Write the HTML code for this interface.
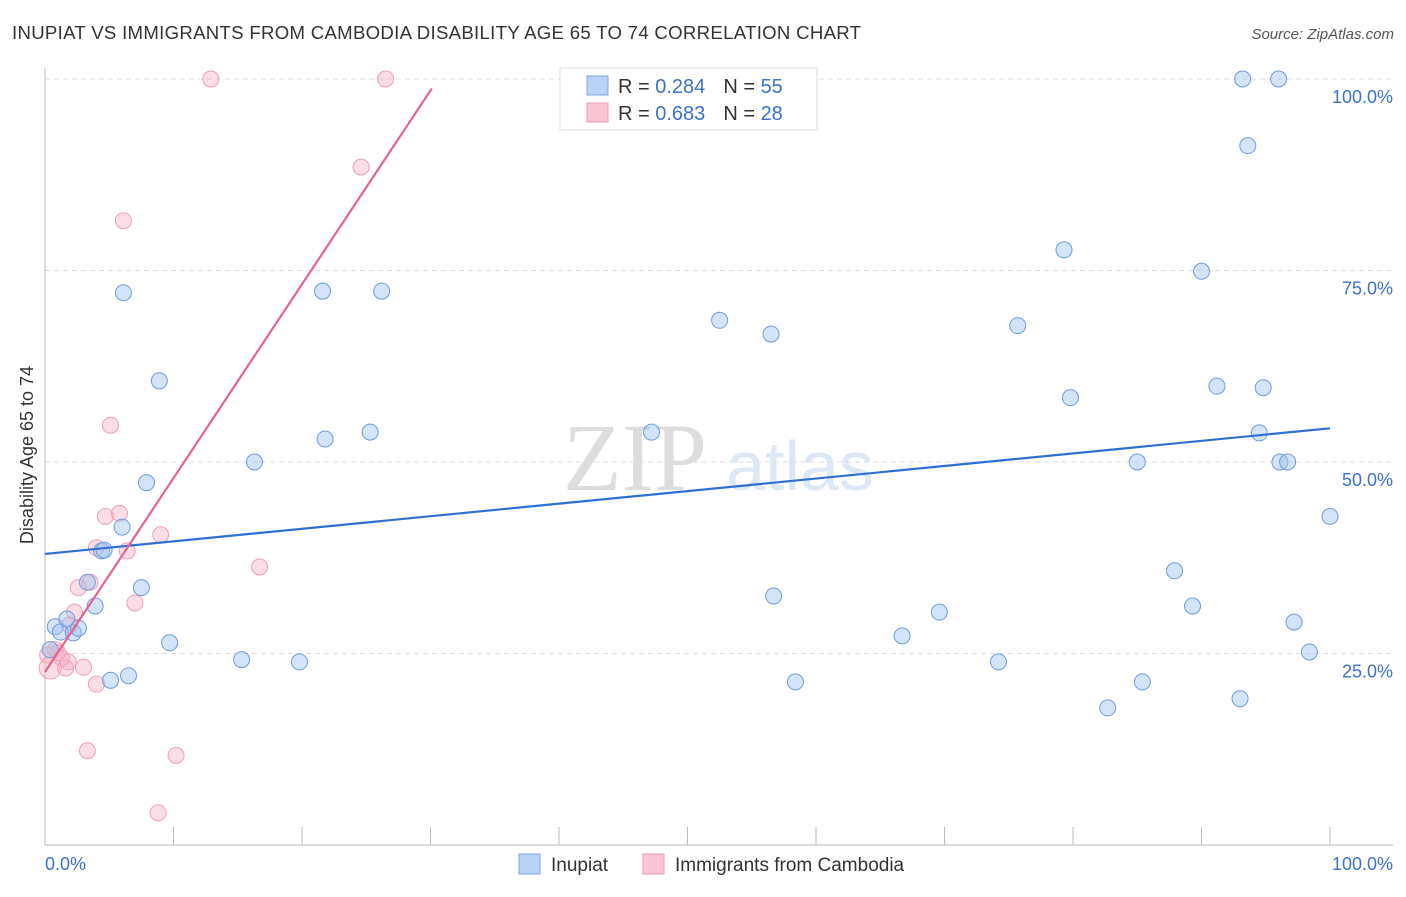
<!DOCTYPE html>
<html><head><meta charset="utf-8"><style>
body{margin:0;background:#fff;font-family:"Liberation Sans",sans-serif;}
</style></head><body>
<svg id="c" width="1406" height="892" xmlns="http://www.w3.org/2000/svg" style="font-family:'Liberation Sans',sans-serif">
<text x="12" y="39" font-size="18.6" fill="#333" letter-spacing="0.3">INUPIAT VS IMMIGRANTS FROM CAMBODIA DISABILITY AGE 65 TO 74 CORRELATION CHART</text>
<text x="1394" y="39" font-size="15" fill="#555" font-style="italic" text-anchor="end">Source: ZipAtlas.com</text>
<g><text x="635" y="490" font-size="96" fill="#ddd" font-family="Liberation Serif" text-anchor="middle">ZIP</text><text x="800" y="490" font-size="70" fill="#dce8f5" text-anchor="middle">atlas</text></g>
<g id="grid"></g>
<line x1="45" y1="68" x2="45" y2="845" stroke="#bbb"/>
<line x1="45" y1="845" x2="1393" y2="845" stroke="#bbb"/>
<g id="ticks"></g>
<text x="33" y="455" font-size="18" fill="#333" text-anchor="middle" transform="rotate(-90 33 455)">Disability Age 65 to 74</text>
<text x="45" y="870" font-size="18" fill="#3b73c9">0.0%</text>
<text x="1393" y="870" font-size="18" fill="#3b73c9" text-anchor="end">100.0%</text>
<g id="pts"></g>
<g id="trend"></g>
<g>
<rect x="560" y="68" width="257" height="62" fill="#fff" stroke="#ddd"/>
<rect x="587" y="76" width="21" height="19" fill="#b8d3f5" stroke="#7ea7dc"/>
<rect x="587" y="103" width="21" height="19" fill="#fac6d5" stroke="#eb9cb4"/>
<text x="618" y="93" font-size="20" fill="#333">R = <tspan fill="#3b73c9">0.284</tspan><tspan dx="18">N = </tspan><tspan fill="#3b73c9">55</tspan></text>
<text x="618" y="120" font-size="20" fill="#333">R = <tspan fill="#3b73c9">0.683</tspan><tspan dx="18">N = </tspan><tspan fill="#3b73c9">28</tspan></text>
</g>
<g>
<rect x="519" y="854" width="21" height="20" fill="#b8d3f5" stroke="#7ea7dc"/>
<text x="551" y="871" font-size="19" fill="#333">Inupiat</text>
<rect x="643" y="854" width="21" height="20" fill="#fac6d5" stroke="#eb9cb4"/>
<text x="675" y="871" font-size="19" fill="#333">Immigrants from Cambodia</text>
</g>
</svg>
<script>
const yTicks=[25,50,75,100];
const yTickLabels=["25.0%","50.0%","75.0%","100.0%"];
const xTicks=[0,10,20,30,40,50,60,70,80,90,100];
const blueX=[0.8,1.2,1.7,2.2,2.6,3.3,3.9,4.4,4.6,5.1,6.0,6.1,6.5,7.5,7.9,8.9,9.7,15.3,16.3,19.8,21.6,21.8,25.3,26.2,47.2,50.0,52.5,56.5,56.7,58.4,66.7,69.6,74.2,75.7,79.3,79.8,82.7,85.0,85.4,87.9,89.3,90.0,91.2,93.0,93.2,93.6,94.5,94.8,96.0,96.1,96.7,97.2,98.4,100,0.4];
const blueY=[28.5,27.8,29.5,27.7,28.3,34.3,31.2,38.4,38.5,21.5,41.5,72.1,22.1,33.6,47.3,60.6,26.4,24.2,50.0,23.9,72.3,53.0,53.9,72.3,53.9,100,68.5,66.7,32.5,21.3,27.3,30.4,23.9,67.8,77.7,58.4,17.9,50.0,21.3,35.8,31.2,74.9,59.9,19.1,100,91.3,53.8,59.7,100,50,50,29.1,25.2,42.9,25.5];
const pinkX=[0.4,0.8,1.0,1.3,1.6,1.8,2.3,2.6,3.0,3.3,3.5,4.0,4.0,4.7,5.8,6.1,6.4,7.0,8.8,9.0,10.2,5.1,12.9,16.7,24.6,26.5,0.2,1.9];
const pinkY=[23.1,25.5,25.1,24.4,23.1,23.9,30.4,33.6,23.2,12.3,34.3,21.0,38.8,42.9,43.3,81.5,38.4,31.6,4.2,40.5,11.7,54.8,100,36.3,88.5,100,24.8,28.7];
const blueTrend=[38.0,0.164];
const pinkTrend=[22.6,2.53];
const pinkTrendEnd=30.1;
const NS="http://www.w3.org/2000/svg";
const X=v=>45+v*12.85, Y=v=>845-v*7.66;
function mk(t,a,p){const e=document.createElementNS(NS,t);for(const k in a)e.setAttribute(k,a[k]);p.appendChild(e);return e;}
const grid=document.getElementById('grid');
yTicks.forEach((t,i)=>{
 const l=mk('line',{x1:45,x2:1393,y1:Y(t),y2:Y(t),stroke:'#ddd','stroke-dasharray':'5,4'},grid);
 
 
 const tx=mk('text',{x:1393,y:Y(t)+24,'font-size':18,fill:'#3b73c9','text-anchor':'end'},grid);
 tx.textContent=yTickLabels[i];
 
 
});
const ticks=document.getElementById('ticks');
xTicks.forEach(t=>{
 const l=mk('line',{x1:X(t),x2:X(t),y1:827,y2:845,stroke:'#bbb'},ticks);
 
 
});
const pts=document.getElementById('pts');
pinkX.forEach((v,i)=>{
 const c=mk('circle',{cx:X(v),cy:Y(pinkY[i]),r:(i===0?11:8),fill:'rgba(244,170,192,0.4)',stroke:'#ef9fb8','stroke-width':1},pts);
 
 
});
blueX.forEach((v,i)=>{
 const c=mk('circle',{cx:X(v),cy:Y(blueY[i]),r:8,fill:'rgba(160,195,240,0.45)',stroke:'#6f9cdc','stroke-width':1},pts);
 
 
});
const tr=document.getElementById('trend');
const bl=mk('line',{x1:X(0),y1:Y(blueTrend[0]),x2:X(100),y2:Y(blueTrend[0]+100*blueTrend[1]),stroke:'#2f6fd4','stroke-width':2.2},tr);


const pl=mk('line',{x1:X(0),y1:Y(pinkTrend[0]),x2:X(pinkTrendEnd),y2:Y(pinkTrend[0]+pinkTrendEnd*pinkTrend[1]),stroke:'#e4648f','stroke-width':2.2},tr);


</script>
</body></html>
